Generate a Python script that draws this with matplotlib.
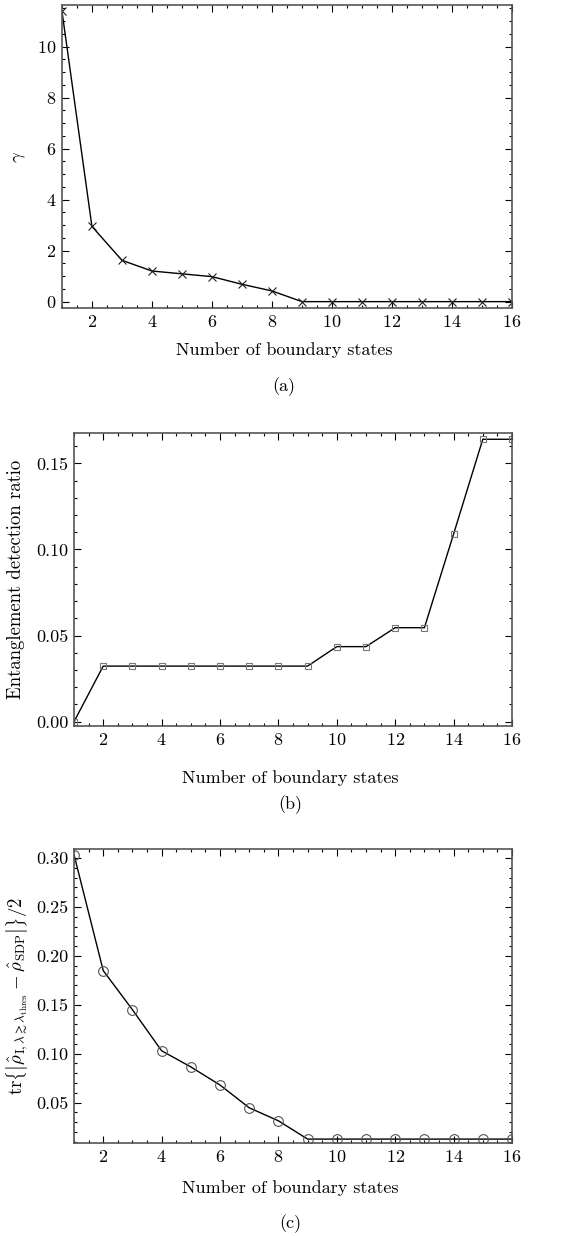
import matplotlib
matplotlib.use('Agg')
import matplotlib.pyplot as plt
from matplotlib.ticker import MultipleLocator

plt.rcParams['font.family'] = 'serif'
plt.rcParams['font.serif'] = ['cmr10']
plt.rcParams['mathtext.fontset'] = 'cm'
plt.rcParams['axes.formatter.use_mathtext'] = True

# данные
n_states = list(range(1, 17))
gamma = [11.4, 2.95, 1.62, 1.2, 1.09, 0.98, 0.68, 0.42, 0, 0, 0, 0, 0, 0, 0, 0]
ratio = [0.0, 0.0323, 0.0323, 0.0323, 0.0323, 0.0323, 0.0323, 0.0323, 0.0323,
         0.0436, 0.0436, 0.0546, 0.0546, 0.109, 0.164, 0.164]
trace_dist = [0.3034, 0.185, 0.145, 0.103, 0.0865, 0.068, 0.0447, 0.0314,
              0.0127, 0.0127, 0.0127, 0.0127, 0.0127, 0.0127, 0.0127, 0.0127]

xlabel = 'Number of boundary states'
ylabels = [r'$\gamma$',
           'Entanglement detection ratio',
           r'tr$\left\{\left|\hat{\rho}_{\mathrm{I},\lambda\gtrsim\lambda_{\mathrm{thres}}}'
           r' - \hat{\rho}_{\mathrm{SDP}}\right|\right\}/2$']
captions = ['(a)', '(b)', '(c)']

fig = plt.figure(figsize=(5.68, 12.36), dpi=100)

# положения осей в долях фигуры
boxes = [[0.109, 0.7508, 0.7924, 0.2452],
         [0.1303, 0.4126, 0.7711, 0.2373],
         [0.1303, 0.0750, 0.7711, 0.2379]]
ylims = [(-0.25, 11.63), (-0.0025, 0.1678), (0.0084, 0.309)]
ymajor = [2, 0.05, 0.05]
yminor = [0.5, 0.01, 0.01]
yfmt = [None, '%.2f', '%.2f']
ylab_x = [-0.075, -0.112, -0.10]
xlab_y = [0.3505, 0.7785, 1.1885]
cap_y = [0.387, 0.805, 1.2235]
fs = 13

styles = [dict(marker='x', ms=5.5, mec='#222222', mew=0.8),
          dict(marker='s', ms=5, mfc='none', mec='#777777', mew=0.8),
          dict(marker='o', ms=7, mfc='none', mec='#555555', mew=0.8)]
series = [gamma, ratio, trace_dist]

for i in range(3):
    ax = fig.add_axes(boxes[i])
    ax.plot(n_states, series[i], color='black', lw=1.0, **styles[i])
    ax.set_xlim(1, 16)
    ax.set_ylim(*ylims[i])
    ax.xaxis.set_major_locator(MultipleLocator(2))
    ax.xaxis.set_minor_locator(MultipleLocator(0.5))
    ax.yaxis.set_major_locator(MultipleLocator(ymajor[i]))
    ax.yaxis.set_minor_locator(MultipleLocator(yminor[i]))
    if yfmt[i]:
        ax.yaxis.set_major_formatter(plt.FormatStrFormatter(yfmt[i]))
    ax.tick_params(which='both', direction='in', top=True, right=True,
                   labelsize=fs, color='black', width=0.8)
    ax.tick_params(which='major', length=5, pad=4)
    ax.tick_params(which='minor', length=2.5)
    for s in ax.spines.values():
        s.set_color('#555555')
        s.set_linewidth(1.2)
    ax.set_ylabel(ylabels[i], fontsize=fs + 0.5)
    ax.yaxis.set_label_coords(ylab_x[i], 0.5)
    cx = 0.5 * (boxes[i][0] + 0.9014) - 0.005
    fig.text(cx, 1 - xlab_y[i] / 1.236, xlabel, ha='center', va='center', fontsize=fs)
    fig.text(cx, 1 - cap_y[i] / 1.236, captions[i], ha='center', va='center', fontsize=fs)

fig.savefig('out.png', dpi=100)
